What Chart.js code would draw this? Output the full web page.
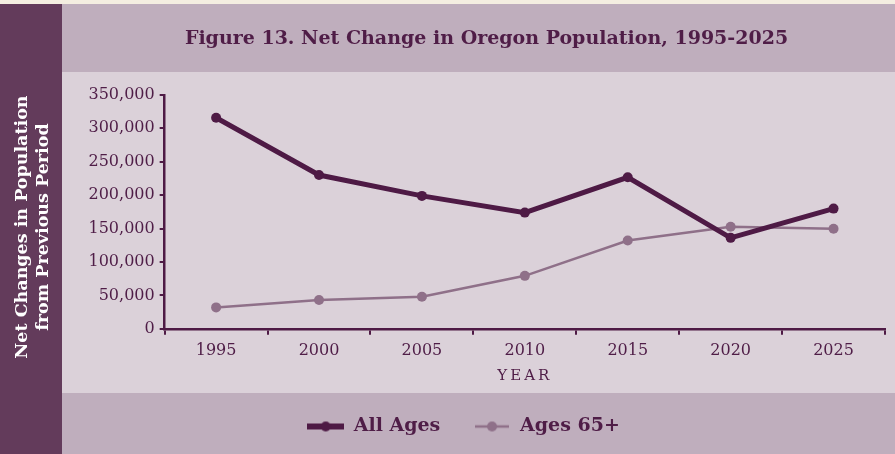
<!DOCTYPE html>
<html>
<head>
<meta charset="utf-8">
<script src="https://cdn.jsdelivr.net/npm/chart.js@4"></script>
<style>
  html, body { margin: 0; padding: 0; background: #f4eee1; }
  #wrap { width: 895px; height: 454px; position: relative; }
</style>
</head>
<body>
<div id="wrap"><canvas id="popChart"></canvas></div>
<script>
const years = ['1995', '2000', '2005', '2010', '2015', '2020', '2025'];
const allAges = [315600, 230000, 198800, 173800, 226600, 136000, 179800];
const ages65 = [32000, 43000, 48000, 79200, 132000, 152700, 149600];
const yTicks = [0, 50000, 100000, 150000, 200000, 250000, 300000, 350000];

const dark = '#4e1a45';
const light = '#8f7089';
const textColor = '#4f1d47';
const serif = '"DejaVu Serif", "Liberation Serif", serif';

// little line-with-dot pictures for the legend
function legendMark(color, lw, r, w) {
    const c = document.createElement('canvas');
    c.width = w; c.height = 14;
    const g = c.getContext('2d');
    g.strokeStyle = color; g.lineWidth = lw;
    g.beginPath(); g.moveTo(0, 7); g.lineTo(w, 7); g.stroke();
    g.fillStyle = color;
    g.beginPath(); g.arc(w / 2, 7, r, 0, Math.PI * 2); g.fill();
    return c;
}

// coloured bands behind the chart
const bands = {
    id: 'bands',
    beforeDraw(chart) {
        const ctx = chart.ctx;
        ctx.save();
        ctx.fillStyle = '#f4eee1'; ctx.fillRect(0, 0, 895, 454);
        ctx.fillStyle = '#633b5b'; ctx.fillRect(0, 4, 62, 450);
        ctx.fillStyle = '#bfaebd'; ctx.fillRect(62, 4, 833, 68);
        ctx.fillStyle = '#dbd1d9'; ctx.fillRect(62, 72, 833, 321);
        ctx.fillStyle = '#bfaebd'; ctx.fillRect(62, 393, 833, 61);
        ctx.restore();
    }
};

// title and legend sit centred on the panel to the right of the dark strip,
// and the YEAR label is letter-spaced
const nudge = {
    id: 'nudge',
    afterLayout(chart) {
        chart.titleBlock.left += 44;
        chart.titleBlock.right += 44;
        chart.legend.left += 21;
        chart.legend.right += 21;
        const xs = chart.scales.x;
        if (!xs._spaced) {
            const orig = xs.drawTitle;
            xs.drawTitle = function () {
                this.ctx.save();
                this.ctx.letterSpacing = '3px';
                orig.call(this);
                this.ctx.restore();
            };
            xs._spaced = true;
        }
    }
};

new Chart(document.getElementById('popChart').getContext('2d'), {
    type: 'line',
    data: {
        labels: years,
        datasets: [{
            label: 'All Ages  ',
            data: allAges,
            borderColor: dark,
            backgroundColor: dark,
            borderWidth: 5,
            pointRadius: 5,
            pointBorderWidth: 0,
            pointHoverRadius: 5
        }, {
            label: 'Ages 65+',
            data: ages65,
            borderColor: light,
            backgroundColor: light,
            borderWidth: 2.5,
            pointRadius: 5,
            pointBorderWidth: 0,
            pointHoverRadius: 5
        }]
    },
    options: {
        responsive: true,
        maintainAspectRatio: false,
        animation: false,
        layout: { padding: { top: 0, right: 10, bottom: 8, left: 0 } },
        plugins: {
            title: {
                display: true,
                text: 'Figure 13. Net Change in Oregon Population, 1995-2025',
                color: textColor,
                font: { family: serif, size: 19, weight: 'bold' },
                padding: { top: 28, bottom: 44 }
            },
            legend: {
                position: 'bottom',
                align: 'center',
                labels: {
                    color: textColor,
                    font: { family: serif, size: 19, weight: 'bold' },
                    usePointStyle: true,
                    pointStyleWidth: 37,
                    padding: 20,
                    generateLabels(chart) {
                        return chart.data.datasets.map((ds, i) => ({
                            text: ds.label,
                            fontColor: textColor,
                            pointStyle: i === 0 ? legendMark(dark, 6, 5, 37) : legendMark(light, 2.5, 5, 34),
                            datasetIndex: i,
                            lineWidth: 0,
                            strokeStyle: 'transparent',
                            fillStyle: 'transparent'
                        }));
                    }
                }
            },
            tooltip: { enabled: false }
        },
        scales: {
            x: {
                offset: true,
                grid: {
                    offset: true,
                    drawOnChartArea: false,
                    drawTicks: true,
                    tickLength: 6,
                    color: dark,
                    lineWidth: 2
                },
                border: { display: true, color: dark, width: 2.5 },
                ticks: {
                    color: textColor,
                    font: { family: serif, size: 16 },
                    padding: 6
                },
                title: {
                    display: true,
                    text: 'YEAR',
                    color: textColor,
                    font: { family: serif, size: 15 },
                    padding: { top: 1, bottom: 12 }
                }
            },
            y: {
                min: 0,
                max: 350000,
                afterBuildTicks(scale) {
                    scale.ticks = yTicks.map(v => ({ value: v }));
                },
                grid: {
                    drawOnChartArea: false,
                    drawTicks: true,
                    tickLength: 5,
                    color: dark,
                    lineWidth: 2
                },
                border: { display: true, color: dark, width: 2.5 },
                ticks: {
                    color: textColor,
                    font: { family: serif, size: 16 },
                    padding: 5,
                    callback: v => v.toLocaleString('en-US')
                },
                title: {
                    display: true,
                    text: ['Net Changes in Population     ', 'from Previous Period     '],
                    color: '#ffffff',
                    font: { family: serif, size: 17.5, weight: 'bold', lineHeight: 1.2 },
                    padding: { top: 11.5, bottom: 30 }
                }
            }
        }
    },
    plugins: [bands, nudge]
});
</script>
</body>
</html>
